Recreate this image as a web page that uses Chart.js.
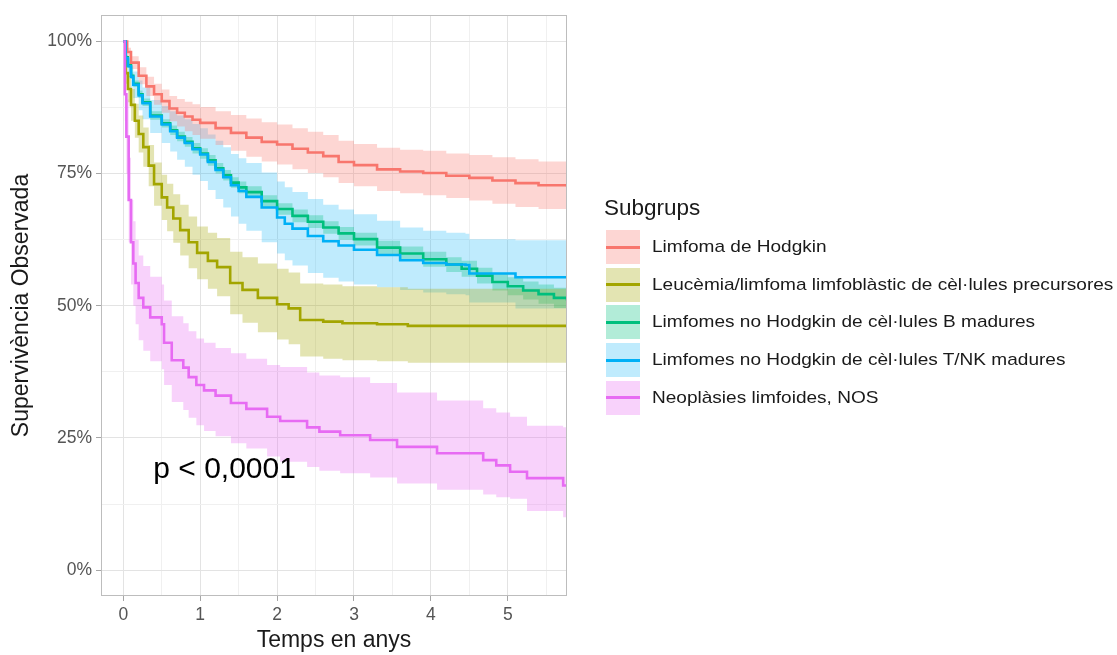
<!DOCTYPE html>
<html>
<head>
<meta charset="utf-8">
<script src="https://cdn.jsdelivr.net/npm/chart.js@4.4.0/dist/chart.umd.min.js"></script>
<style>
  body { margin: 0; background: #fff; font-family: "Liberation Sans", Arial, sans-serif; }
  #wrap { position: relative; width: 1117px; height: 655px; }
  #legend { position: absolute; left: 604px; top: 0; }
  #legend .title { position: absolute; left: 0; top: 195px; font-size: 22.5px; color: #1a1a1a; white-space: nowrap; }
  #legend .row { position: absolute; left: 2px; height: 34px; white-space: nowrap; }
  #legend .key { position: absolute; left: 0; top: 0; width: 34px; height: 34px; }
  #legend .key i { position: absolute; left: 0; right: 0; top: 15.5px; height: 3px; }
  #legend .lab { position: absolute; left: 46px; top: 7px; font-size: 17px; color: #1a1a1a;
                 transform: scaleX(1.12); transform-origin: 0 50%; }
</style>
</head>
<body>
<div id="wrap">
  <canvas id="km" width="1117" height="655"></canvas>
  <div id="legend"></div>
</div>
<script>
// ---- data (time in years, survival in %) ----
const groups = [
  "Limfoma de Hodgkin",
  "Leucèmia/limfoma limfoblàstic de cèl·lules precursores",
  "Limfomes no Hodgkin de cèl·lules B madures",
  "Limfomes no Hodgkin de cèl·lules T/NK madures",
  "Neoplàsies limfoides, NOS"
];
const colors = ["#F8766D", "#A3A500", "#00BF7D", "#00B0F6", "#E76BF3"];
const ribbons = ["rgba(248,118,109,0.3)", "rgba(163,165,0,0.3)", "rgba(0,191,125,0.3)", "rgba(0,176,246,0.25)", "rgba(231,107,243,0.3)"];

// Limfoma de Hodgkin
const hodgkinT  = [0, 0.05, 0.1, 0.2, 0.3, 0.4, 0.5, 0.6, 0.7, 0.8, 0.9, 1.0, 1.2, 1.4, 1.6, 1.8, 2.0, 2.2, 2.4, 2.6, 2.8, 3.0, 3.3, 3.6, 3.9, 4.2, 4.5, 4.8, 5.1, 5.4, 5.77];
const hodgkinS  = [100, 98, 96, 93.5, 91.5, 90, 88.7, 87.3, 86.5, 85.8, 85.2, 84.6, 83.6, 82.7, 81.8, 81, 80.5, 79.7, 79, 78.3, 77.2, 76.6, 75.8, 75.4, 75.1, 74.6, 74.2, 73.7, 73.2, 72.8, 72.5];
const hodgkinHi = [100, 98.8, 97.2, 95.1, 93.3, 92, 90.9, 89.7, 89.1, 88.6, 88.1, 87.6, 86.8, 86.1, 85.4, 84.7, 84.3, 83.6, 82.9, 82.3, 81.2, 80.6, 79.9, 79.5, 79.3, 78.8, 78.5, 78.1, 77.7, 77.3, 77.1];
const hodgkinLo = [100, 97.2, 94.8, 91.9, 89.7, 88, 86.5, 84.9, 83.9, 83, 82.3, 81.6, 80.4, 79.3, 78.2, 77.3, 76.7, 75.8, 75.1, 74.3, 73.2, 72.6, 71.7, 71.3, 70.9, 70.4, 69.9, 69.3, 68.7, 68.3, 67.9];

// Leucèmia/limfoma limfoblàstic
const leucT  = [0, 0.03, 0.06, 0.1, 0.15, 0.2, 0.26, 0.33, 0.4, 0.5, 0.57, 0.65, 0.74, 0.85, 0.96, 1.1, 1.22, 1.39, 1.55, 1.75, 2.0, 2.15, 2.3, 2.6, 2.85, 3.3, 3.7, 5.77];
const leucS  = [100, 94, 91, 88, 85, 82.5, 80, 76.5, 73, 70.5, 68.6, 66.5, 64.3, 62, 60, 58.5, 57.3, 54.3, 53, 51.5, 50.3, 49.5, 47.3, 47, 46.7, 46.5, 46.2, 46.2];
const leucHi = [100, 96, 93.5, 91, 88.2, 86, 83.7, 80.4, 77.1, 74.8, 73.1, 71.1, 69.1, 66.9, 65, 63.8, 62.8, 60.2, 59.2, 58, 57, 56.3, 54.2, 54, 53.7, 53.5, 53.2, 53.2];
const leucLo = [100, 92, 88.5, 85, 81.8, 79, 76.3, 72.6, 68.9, 66.2, 64.1, 61.9, 59.5, 57.1, 55, 53.2, 51.8, 48.4, 46.8, 45, 43.6, 42.7, 40.4, 40, 39.7, 39.5, 39.2, 39.2];

// LNH B madures
const bcellT  = [0, 0.03, 0.06, 0.1, 0.13, 0.2, 0.25, 0.35, 0.5, 0.61, 0.7, 0.8, 0.9, 1.0, 1.1, 1.2, 1.3, 1.4, 1.5, 1.6, 1.8, 2.0, 2.2, 2.4, 2.6, 2.8, 3.0, 3.3, 3.6, 3.9, 4.2, 4.4, 4.6, 4.8, 5.0, 5.2, 5.4, 5.6, 5.77];
const bcellS  = [100, 97, 95.5, 93.5, 92, 90, 88.5, 86, 84.5, 83.2, 82, 81, 79.8, 78.8, 77.5, 76, 74.7, 73.3, 72.4, 71.5, 69.8, 68.3, 67, 65.9, 64.8, 63.7, 62.6, 61, 59.9, 58.8, 57.8, 57, 55.7, 54.5, 53.7, 52.9, 52.2, 51.5, 51];
const bcellHi = [100, 97.4, 96, 94.1, 92.6, 90.7, 89.2, 86.8, 85.3, 84.1, 82.9, 81.9, 80.8, 79.8, 78.5, 77, 75.7, 74.3, 73.5, 72.6, 70.9, 69.4, 68.2, 67.1, 66, 64.9, 63.8, 62.3, 61.2, 60.2, 59.2, 58.5, 57.2, 56.1, 55.4, 54.6, 54, 53.4, 53];
const bcellLo = [100, 96.6, 95, 92.9, 91.4, 89.3, 87.8, 85.2, 83.7, 82.3, 81.1, 80.1, 78.8, 77.8, 76.5, 75, 73.7, 72.3, 71.3, 70.4, 68.7, 67.2, 65.8, 64.7, 63.6, 62.5, 61.4, 59.7, 58.6, 57.4, 56.4, 55.5, 54.2, 52.9, 52, 51.2, 50.4, 49.6, 49];

// LNH T/NK madures
const tcellT  = [0, 0.03, 0.06, 0.1, 0.13, 0.2, 0.25, 0.35, 0.5, 0.61, 0.7, 0.8, 0.9, 1.0, 1.1, 1.2, 1.3, 1.4, 1.5, 1.6, 1.8, 2.0, 2.1, 2.2, 2.4, 2.6, 2.8, 3.0, 3.3, 3.6, 3.9, 4.2, 4.45, 4.5, 5.1, 5.77];
const tcellS  = [100, 96.8, 95.3, 93.3, 91.8, 89.8, 88.3, 85.8, 84.3, 83, 81.8, 80.8, 79.6, 78.6, 77.2, 75.7, 74.3, 72.8, 71.7, 70.6, 68.6, 66.7, 65.5, 64.6, 63.2, 62.2, 61.4, 60.6, 59.6, 58.6, 58.1, 57.8, 57.7, 56.1, 55.4, 55.4];
const tcellHi = [100, 97.8, 96.8, 95.3, 94.3, 92.6, 91.3, 88.9, 87.8, 86.8, 86, 85.3, 84.4, 83.6, 82.4, 81.2, 80, 78.7, 77.9, 77, 75.2, 73.5, 72.4, 71.5, 70.2, 69.1, 68.2, 67.3, 66.1, 64.8, 64.2, 63.8, 63.6, 62.6, 62.4, 62.4];
const tcellLo = [100, 95.8, 93.8, 91.3, 89.3, 87, 85.3, 82.7, 80.8, 79.2, 77.6, 76.3, 74.8, 73.6, 71.9, 70.2, 68.6, 66.9, 65.5, 64.2, 62, 59.9, 58.6, 57.6, 56.2, 55.3, 54.6, 54, 53.5, 53, 52.5, 52.2, 52, 50.6, 49.5, 49.5];

// Neoplàsies limfoides, NOS
const nosT  = [0, 0.02, 0.04, 0.07, 0.1, 0.13, 0.16, 0.2, 0.26, 0.35, 0.5, 0.53, 0.63, 0.78, 0.85, 0.95, 1.05, 1.2, 1.4, 1.6, 1.87, 2.04, 2.39, 2.55, 2.82, 3.21, 3.56, 4.08, 4.68, 4.85, 5.03, 5.25, 5.72, 5.77];
const nosS  = [100, 90, 82, 70, 62, 58, 54.3, 51.5, 49.7, 47.8, 46.5, 43, 39.7, 38.3, 36.5, 35, 34, 33, 31.6, 30.5, 29, 28.2, 27, 26.2, 25.5, 24.6, 23.3, 22.1, 20.8, 19.8, 18.6, 17.4, 16, 16];
const nosHi = [100, 95, 89, 78, 70, 66, 62.5, 59.5, 57.5, 55.5, 54, 51, 48, 46.7, 45.2, 43.8, 43, 42, 41, 40, 38.8, 38.4, 37.4, 36.8, 36.5, 35.4, 33.6, 32.1, 30.6, 29.8, 29, 27.3, 27, 27];
const nosLo = [100, 85, 75, 62, 54, 50, 46.5, 43.5, 41.5, 39.5, 38, 35, 31.8, 30.3, 28.8, 27.4, 26.3, 25.3, 24, 23, 21.5, 20.5, 19.5, 18.8, 18.3, 17.5, 16.4, 15.2, 14.3, 13.8, 13.5, 11.2, 10, 10];

const times = [hodgkinT, leucT, bcellT, tcellT, nosT];
const surv  = [hodgkinS, leucS, bcellS, tcellS, nosS];
const upper = [hodgkinHi, leucHi, bcellHi, tcellHi, nosHi];
const lower = [hodgkinLo, leucLo, bcellLo, tcellLo, nosLo];

const xTicks = [0, 0.5, 1, 1.5, 2, 2.5, 3, 3.5, 4, 4.5, 5, 5.5];
const yTicks = [0, 12.5, 25, 37.5, 50, 62.5, 75, 87.5, 100];
const pLabel = "p < 0,0001";
const pPos = { x: 0.39, y: 18.9 };

// ---- build datasets ----
const pts = (t, v) => t.map((x, i) => ({ x: x, y: v[i] }));
const datasets = [];
groups.forEach((g, i) => {
  const up = datasets.length;
  datasets.push({ data: pts(times[i], upper[i]), borderWidth: 0, pointRadius: 0, stepped: true, fill: false, order: 20 + i });
  datasets.push({ data: pts(times[i], lower[i]), borderWidth: 0, pointRadius: 0, stepped: true,
                  fill: up, backgroundColor: ribbons[i], order: 20 + i });
});
groups.forEach((g, i) => {
  datasets.push({ label: g, data: pts(times[i], surv[i]), borderColor: colors[i], borderWidth: 2.6,
                  pointRadius: 0, stepped: true, fill: false, order: 10 - i });
});

// panel border + p-value text
const panelDecor = {
  id: "panelDecor",
  afterDatasetsDraw(chart) {
    const { ctx, chartArea: a, scales } = chart;
    ctx.save();
    ctx.fillStyle = "#000";
    ctx.font = '30px "Liberation Sans", Arial, sans-serif';
    ctx.textBaseline = "middle";
    ctx.fillText(pLabel, scales.x.getPixelForValue(pPos.x), scales.y.getPixelForValue(pPos.y));
    ctx.strokeStyle = "#BDBDBD";
    ctx.lineWidth = 1;
    ctx.strokeRect(Math.round(a.left) + 0.5, Math.round(a.top) + 0.5, Math.round(a.width) - 1, Math.round(a.height) - 1);
    ctx.restore();
  }
};

const tickFont = { family: '"Liberation Sans", Arial, sans-serif', size: 17.5 };
const titleFont = { family: '"Liberation Sans", Arial, sans-serif', size: 23 };

new Chart(document.getElementById("km"), {
  type: "line",
  data: { datasets },
  plugins: [panelDecor],
  options: {
    responsive: false,
    animation: false,
    devicePixelRatio: 1,
    layout: { padding: { left: 0, top: 15, right: 550, bottom: 0 } },
    plugins: { legend: { display: false }, tooltip: { enabled: false } },
    scales: {
      x: {
        type: "linear", min: -0.29, max: 5.77,
        afterBuildTicks: (s) => { s.ticks = xTicks.map((v) => ({ value: v })); },
        afterFit: (s) => { s.height = 59; },
        border: { display: false },
        grid: {
          color: (c) => (Number.isInteger(c.tick.value) ? "#E3E3E3" : "#F0F0F0"),
          tickColor: (c) => (Number.isInteger(c.tick.value) ? "#A6A6A6" : "rgba(0,0,0,0)"),
          tickLength: 5
        },
        ticks: {
          autoSkip: false, maxRotation: 0, padding: 4, color: "#555", font: tickFont,
          callback: (v) => (Number.isInteger(v) ? String(v) : "")
        },
        title: { display: true, text: "Temps en anys", color: "#1a1a1a", font: titleFont, padding: { top: 1, bottom: 1 } }
      },
      y: {
        type: "linear", min: -4.9, max: 105,
        afterBuildTicks: (s) => { s.ticks = yTicks.map((v) => ({ value: v })); },
        afterFit: (s) => { s.width = 101; },
        border: { display: false },
        grid: {
          color: (c) => (c.tick.value % 25 === 0 ? "#E3E3E3" : "#F0F0F0"),
          tickColor: (c) => (c.tick.value % 25 === 0 ? "#A6A6A6" : "rgba(0,0,0,0)"),
          tickLength: 5
        },
        ticks: {
          autoSkip: false, padding: 4, color: "#555", font: tickFont,
          callback: (v) => (v % 25 === 0 ? v + "%" : "")
        },
        title: { display: true, text: "Supervivència Observada", color: "#1a1a1a", font: titleFont, padding: { top: 8, bottom: 8 } }
      }
    }
  }
});

// ---- legend ----
const leg = document.getElementById("legend");
const ttl = document.createElement("div");
ttl.className = "title";
ttl.textContent = "Subgrups";
leg.appendChild(ttl);
groups.forEach((g, i) => {
  const row = document.createElement("div");
  row.className = "row";
  row.style.top = (230 + i * 37.7) + "px";
  row.innerHTML = '<div class="key" style="background:' + ribbons[i] + '"><i style="background:' + colors[i] + '"></i></div>' +
                  '<div class="lab"></div>';
  row.querySelector(".lab").textContent = g;
  leg.appendChild(row);
});
</script>
</body>
</html>
